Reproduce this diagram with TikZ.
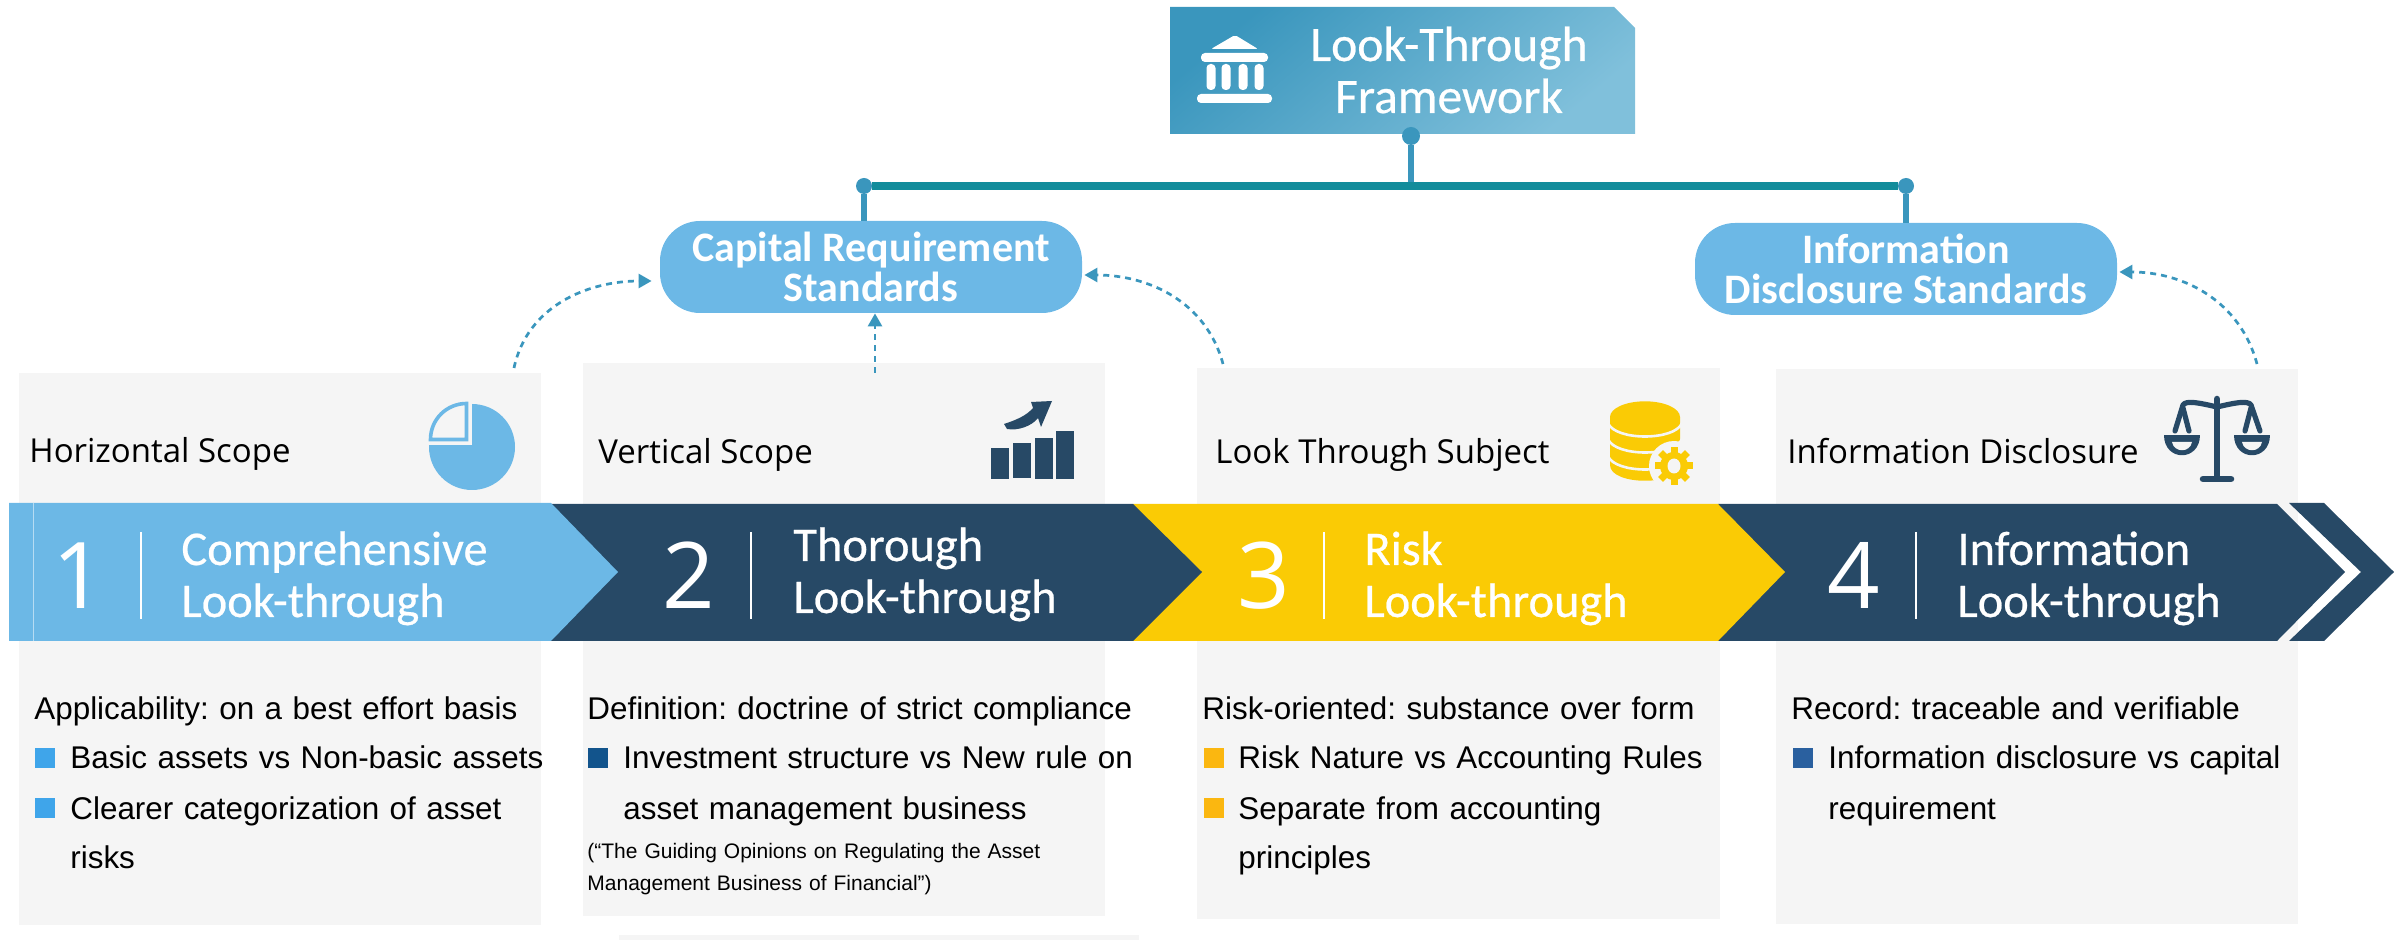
\documentclass[tikz,border=0pt]{standalone}
\usepackage{fontspec}
\setmainfont{Liberation Sans}
\newfontfamily\headfont{Carlito}
\newfontfamily\headsemi[FakeBold=0.5]{Carlito}
\newfontfamily\scopefont{Open Sans}
\frenchspacing
\definecolor{panelgrey}{RGB}{245,245,245}
\definecolor{sky}{RGB}{108,184,230}
\definecolor{navy}{RGB}{39,73,102}
\definecolor{gold}{RGB}{250,203,5}
\definecolor{flow}{RGB}{58,150,189}
\definecolor{busline}{RGB}{18,140,155}
\definecolor{frameend}{RGB}{128,192,219}
\definecolor{key-sky}{RGB}{63,165,234}
\definecolor{key-navy}{RGB}{18,84,140}
\definecolor{key-gold}{RGB}{251,183,16}
\definecolor{key-blue}{RGB}{42,96,159}
\usetikzlibrary{
  arrows.meta,     % triangle tips of the dotted arrows
  positioning      % positions like right of node
}
\tikzset{
  panel/.append style = {fill = panelgrey, anchor = north west, inner sep = 0},
  pill/.append style = {
    fill = sky,
    rounded corners = 20pt,
    minimum width = 211pt,
    minimum height = 46pt,
    inner sep = 0,
    align = center,
    text = white,
    font = \headfont\bfseries\fontsize{21}{20}\selectfont
  },
  joint/.append style = {circle, fill = flow, minimum size = 8pt, inner sep = 0},
  stem/.append style = {draw = flow, line width = 3pt},
  bus/.append style = {draw = busline, line width = 3.75pt},
  flowline/.append style = {
    draw = flow,
    line width = 1.35pt,
    dash pattern = on 3pt off 2.5pt,
    -{Triangle[length=6.5pt,width=7pt]}
  },
  scopelabel/.append style = {
    anchor = base west, inner sep = 0,
    font = \scopefont\fontsize{16.5}{18}\selectfont
  },
  bartitle/.append style = {
    anchor = base west, inner sep = 0, text width = 170pt, align = left, text = white,
    font = \headsemi\fontsize{24.2}{26}\selectfont
  },
  digit/.append style = {
    anchor = base, inner sep = 0, text = white,
    font = \scopefont\fontsize{46}{46}\selectfont
  },
  divider/.append style = {draw = white, line width = 1.3pt},
  bodytext/.append style = {
    anchor = base west, inner sep = 0, text width = 300pt, align = left,
    font = \fontsize{15.7}{25}\selectfont
  },
  smalltext/.append style = {
    anchor = base west, inner sep = 0, text width = 260pt, align = left,
    font = \fontsize{10.5}{16}\selectfont
  },
  keybox/.append style = {minimum size = 10pt, inner sep = 0},
  >=stealth
}

\begin{document}
\begin{tikzpicture}[x=0.5pt, y=-0.5pt]
\useasboundingbox (0,0) rectangle (2394,940);

% grey panels
\node[panel, minimum width=261pt, minimum height=276pt] (panelhor) at (19,373) {};
\node[panel, minimum width=261pt, minimum height=276.5pt] (panelver) at (583,363) {};
\node[panel, minimum width=261.5pt, minimum height=275.5pt] (panelsub) at (1197,368) {};
\node[panel, minimum width=261pt, minimum height=277.5pt] (paneldis) at (1776,369) {};
\node[panel, minimum width=260pt, minimum height=2.5pt] (panelrest) at (619,935) {};

% top box
\path[left color=flow, right color=frameend, shading angle=40]
  (1170,7) -- (1614,7) -- (1635,28) -- (1635,134) -- (1170,134) -- cycle;
\node[anchor=base, inner sep=0, text width=170pt, align=center, text=white,
  font=\headsemi\fontsize{24.8}{26}\selectfont] (framework) at (1449,61) {Look-Through\\Framework};
\fill[white, rounded corners=1pt] (1235,35) -- (1258,49) -- (1211,49) -- cycle;
\fill[white, rounded corners=2pt] (1201,53) rectangle (1268,62);
\foreach \cx in {1211,1226,1243,1259}
  \fill[white, rounded corners=2pt] (\cx-4.5,64) rectangle (\cx+4.5,90);
\fill[white, rounded corners=2pt] (1197,94) rectangle (1272,103);

% pills
\node[pill] (capital) at (871,267) {Capital Requirement\\Standards};
\node[pill] (disclosure) at (1906,269) {Information\\Disclosure Standards};

% bus
\node[joint, minimum size=9pt] (topjoint) at (1411,136) {};
\node[joint] (capjoint) at (864,186) {};
\node[joint] (disjoint) at (1906,186) {};
\coordinate (busmid) at (1411,185);
\draw[stem] (topjoint) -- (busmid);
\draw[stem] (capjoint) -- (capjoint |- capital.north);
\draw[stem] (disjoint) -- (disjoint |- disclosure.north);
\draw[bus] (capjoint) -- (disjoint);

% dotted arrows
\coordinate (horstart) at (514,368);
\coordinate (verstart) at (875,373);
\coordinate (substart) at (1223,364);
\coordinate (disstart) at (2257,364);
\draw[flowline] (horstart) to[out=78, in=180] ([shift={(-8,14)}]capital.west);
\draw[flowline] (verstart) -- (verstart |- capital.south);
\draw[flowline] (substart) to[out=105, in=0] ([shift={(2,8)}]capital.east);
\draw[flowline] (disstart) to[out=105, in=0] ([shift={(2,3)}]disclosure.east);

% arrow band
\fill[navy] (2289,503) -- (2324,503) -- (2394,572) -- (2324,641) -- (2289,641) -- (2361,572) -- cycle;
\fill[navy] (1718,504) -- (2277,504) -- (2345,572) -- (2277,641) -- (1718,641) -- cycle;
\fill[gold] (1133,504) -- (1718,504) -- (1785,572) -- (1718,641) -- (1133,641) -- cycle;
\fill[navy] (551,504) -- (1133,504) -- (1202,572) -- (1133,641) -- (551,641) -- cycle;
\fill[sky] (9,503) -- (551,503) -- (618,572) -- (551,641) -- (9,641) -- cycle;
\draw[white!50!sky, line width=0.4pt] (33,503) -- (33,641);

\foreach \n/\nx/\dx in {1/79/141, 2/689/751, 3/1264/1324, 4/1854/1916} {
  \node[digit] (digit\n) at (\nx,609) {\n};
  \draw[divider] (\dx,532) -- (\dx,619);
}
\node[bartitle] (titleone) at (181,565) {Comprehensive\\Look-through};
\node[bartitle] (titletwo) at (793,561) {Thorough\\Look-through};
\node[bartitle] (titlethree) at (1364,565) {Risk\\Look-through};
\node[bartitle] (titlefour) at (1957,565) {Information\\Look-through};

% scope labels
\node[scopelabel] (labelhor) at (29,463) {Horizontal Scope};
\node[scopelabel] (labelver) at (598,464) {Vertical Scope};
\node[scopelabel] (labelsub) at (1215,464) {Look Through Subject};
\node[scopelabel] (labeldis) at (1787,464) {Information Disclosure};

% pie icon
\fill[sky] (472,447) circle (43);
\fill[panelgrey] (425,400) rectangle (472,445);
\draw[sky, line width=1.8pt] (430.5,439.5) .. controls (430.5,419) and (447,403.5) .. (466.5,403.5) -- (466.5,439.5) -- cycle;

% bars icon
\fill[navy] (991,448) rectangle (1009,479);
\fill[navy] (1013,443) rectangle (1031,478);
\fill[navy] (1035,438) rectangle (1053,479);
\fill[navy] (1056,431) rectangle (1074,479);
\fill[navy] (1004,424) .. controls (1016,420) and (1026,416) .. (1033,408) -- (1031,402) -- (1052,401)
  -- (1041,427) -- (1038,418) .. controls (1032,426) and (1018,431) .. (1007,429) -- cycle;

% database icon
\fill[gold] (1610,417) -- (1680,417) -- (1680,465) .. controls (1680,486) and (1610,486) .. (1610,465) -- cycle;
\foreach \dy in {0,16,33}
  \draw[panelgrey, line width=1.3pt] (1608,423+\dy) .. controls (1615,441+\dy) and (1675,441+\dy) .. (1682,423+\dy);
\fill[gold] (1645,417) circle[x radius=35, y radius=15.7];
\fill[panelgrey] (1674,466) circle (25);
\fill[gold] (1674,466) circle (14);
\foreach \a in {0,45,...,315}
  \fill[gold, shift={(1674,466)}, rotate=\a] (-3.5,-19) rectangle (3.5,-10);
\fill[panelgrey] (1674,466) circle[x radius=6.5, y radius=7.5];

% scale icon
\draw[navy, line width=3.25pt, line cap=round] (2217,399) -- (2217,478);
\draw[navy, line width=3.25pt, line cap=round] (2203,479) -- (2231,479);
\draw[navy, line width=2.6pt, line cap=round, line join=round]
  (2175,431) -- (2183,405) .. controls (2186,400) and (2200,403) .. (2217,407)
  .. controls (2234,403) and (2248,400) .. (2251,405) -- (2260,431);
\draw[navy, line width=2.6pt, line cap=round] (2183,408) -- (2189,431);
\draw[navy, line width=2.6pt, line cap=round] (2251,408) -- (2245,431);
\fill[navy] (2164,435) .. controls (2164,462) and (2200,462) .. (2200,435) -- cycle;
\fill[navy] (2234,435) .. controls (2234,462) and (2270,462) .. (2270,435) -- cycle;
\fill[panelgrey] (2172,442) .. controls (2174,453) and (2190,453) .. (2192,442) -- cycle;
\fill[panelgrey] (2242,442) .. controls (2244,453) and (2260,453) .. (2262,442) -- cycle;

% body texts
\node[bodytext] (lineone) at (34,719) {Applicability: on a best effort basis};
\node[keybox, fill=key-sky] (keyonea) at (45,758) {};
\node[keybox, fill=key-sky] (keyoneb) at (45,808) {};
\node[bodytext] (textone) at (70,769) {Basic assets vs Non-basic assets\\Clearer categorization of asset\\risks};

\node[bodytext] (linetwo) at (587,719) {Definition: doctrine of strict compliance};
\node[keybox, fill=key-navy] (keytwoa) at (598,758) {};
\node[bodytext] (texttwo) at (623,769) {Investment structure vs New rule on\\asset management business};
\node[smalltext] (smalltwo) at (587,858) {(“The Guiding Opinions on Regulating the Asset\\Management Business of Financial”)};

\node[bodytext] (linethree) at (1202,719) {Risk-oriented: substance over form};
\node[keybox, fill=key-gold] (keythreea) at (1214,758) {};
\node[keybox, fill=key-gold] (keythreeb) at (1214,808) {};
\node[bodytext] (textthree) at (1238,769) {Risk Nature vs Accounting Rules\\Separate from accounting\\principles};

\node[bodytext] (linefour) at (1791,719) {Record: traceable and verifiable};
\node[keybox, fill=key-blue] (keyfoura) at (1803,758) {};
\node[bodytext] (textfour) at (1828,769) {Information disclosure vs capital\\requirement};
\end{tikzpicture}
\end{document}
